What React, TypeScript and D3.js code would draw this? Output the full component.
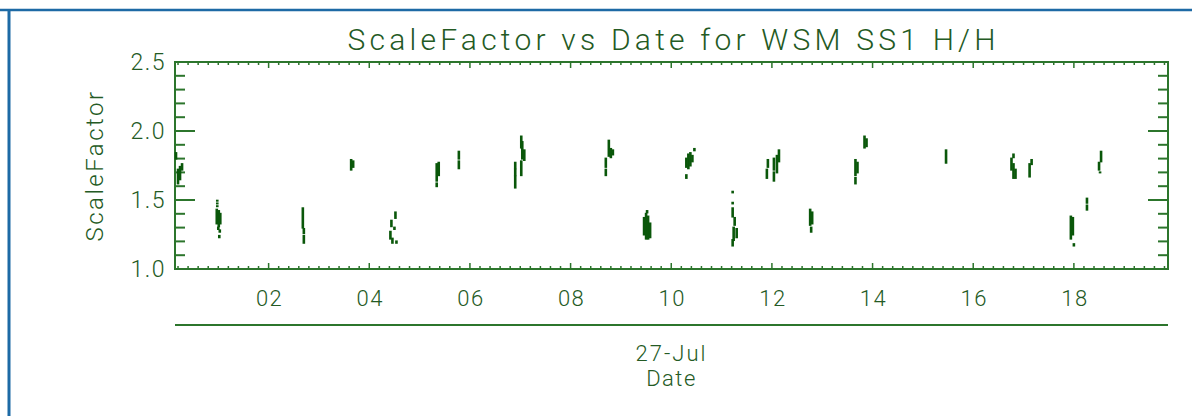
import React, { useEffect, useRef } from 'react';
import * as d3 from 'd3';

const title = 'ScaleFactor vs Date for WSM SS1 H/H';
const yTitle = 'ScaleFactor';
const dayLabel = '27-Jul';
const xTitle = 'Date';

const hourTicks = [2, 4, 6, 8, 10, 12, 14, 16, 18];
const hourLabels = ['02', '04', '06', '08', '10', '12', '14', '16', '18'];
const yTicks = [1.0, 1.5, 2.0, 2.5];
const yLabels = ['1.0', '1.5', '2.0', '2.5'];

// [hour of day, low ScaleFactor, high ScaleFactor] - short runs of samples
const samples: [number, number, number][] = [
  [0.16, 1.8, 1.84], [0.2, 1.62, 1.72], [0.24, 1.65, 1.74], [0.28, 1.72, 1.76],
  [0.98, 1.495, 1.495], [0.98, 1.475, 1.475], [0.98, 1.455, 1.455],
  [0.97, 1.33, 1.43], [1.01, 1.31, 1.42], [1.04, 1.33, 1.4],
  [1.0, 1.29, 1.3], [1.03, 1.27, 1.28], [1.02, 1.23, 1.24],
  [2.68, 1.3, 1.44], [2.7, 1.26, 1.29], [2.7, 1.19, 1.24],
  [3.64, 1.72, 1.79], [3.68, 1.74, 1.78],
  [4.52, 1.37, 1.41], [4.44, 1.31, 1.35], [4.5, 1.29, 1.3],
  [4.42, 1.22, 1.27], [4.46, 1.19, 1.22], [4.54, 1.19, 1.2],
  [5.34, 1.64, 1.76], [5.38, 1.68, 1.77], [5.34, 1.6, 1.62],
  [5.78, 1.8, 1.85], [5.78, 1.73, 1.78],
  [6.9, 1.59, 1.67], [6.9, 1.68, 1.72], [6.9, 1.73, 1.77],
  [7.02, 1.68, 1.78], [7.04, 1.8, 1.92], [7.08, 1.79, 1.86], [7.02, 1.88, 1.96],
  [8.7, 1.68, 1.72], [8.7, 1.74, 1.8], [8.76, 1.82, 1.93], [8.8, 1.81, 1.87], [8.84, 1.83, 1.86],
  [9.46, 1.25, 1.37], [9.5, 1.22, 1.4], [9.54, 1.22, 1.38], [9.58, 1.23, 1.33], [9.52, 1.41, 1.42],
  [10.3, 1.74, 1.8], [10.34, 1.73, 1.83], [10.38, 1.75, 1.84], [10.42, 1.78, 1.82],
  [10.46, 1.86, 1.87], [10.3, 1.66, 1.68],
  [11.22, 1.555, 1.56], [11.22, 1.475, 1.48], [11.22, 1.38, 1.44], [11.26, 1.32, 1.37],
  [11.24, 1.21, 1.3], [11.3, 1.23, 1.29], [11.22, 1.17, 1.21],
  [11.9, 1.66, 1.72], [11.92, 1.74, 1.79], [12.04, 1.64, 1.7], [12.04, 1.72, 1.8],
  [12.1, 1.7, 1.82], [12.14, 1.78, 1.86],
  [12.76, 1.32, 1.43], [12.8, 1.33, 1.41], [12.78, 1.27, 1.3],
  [13.66, 1.62, 1.66], [13.66, 1.68, 1.79], [13.7, 1.7, 1.77], [13.84, 1.88, 1.96], [13.88, 1.89, 1.94],
  [15.46, 1.77, 1.86],
  [16.76, 1.72, 1.8], [16.8, 1.66, 1.76], [16.84, 1.66, 1.72], [16.8, 1.81, 1.83],
  [17.12, 1.67, 1.76], [17.16, 1.76, 1.79],
  [17.94, 1.22, 1.38], [17.98, 1.25, 1.37], [18.0, 1.17, 1.18],
  [18.26, 1.43, 1.46], [18.26, 1.48, 1.51],
  [18.54, 1.78, 1.85], [18.5, 1.72, 1.77], [18.52, 1.7, 1.7],
];

const App = () => {
  const ref = useRef<SVGSVGElement>(null);

  useEffect(() => {
    const width = 1192;
    const height = 416;
    const left = 175, right = 1168, top = 62, bottom = 269;
    const axisColor = '#2c752c';
    const dotColor = '#0a570a';
    const textColor = '#245a24';
    const font = "Roboto, 'DejaVu Sans', sans-serif";

    const svg = d3.select(ref.current);
    svg.selectAll('*').remove();

    const x = d3.scaleLinear().domain([0.14, 19.87]).range([left, right]);
    const y = d3.scaleLinear().domain([1.0, 2.5]).range([bottom, top]);

    svg.append('rect').attr('width', width).attr('height', height).attr('fill', '#fff');

    // blue page frame
    svg.append('line').attr('x1', 0).attr('x2', width).attr('y1', 10).attr('y2', 10)
      .attr('stroke', '#1d6aa5').attr('stroke-width', 2.5);
    svg.append('line').attr('x1', 9).attr('x2', 9).attr('y1', 10).attr('y2', height)
      .attr('stroke', '#1d6aa5').attr('stroke-width', 3);

    const label = (sel: any, size: number, spacing = 1.5) =>
      sel.style('font-family', font).style('font-weight', 300)
        .style('font-size', `${size}px`).style('letter-spacing', `${spacing}px`)
        .style('fill', textColor);

    // title
    label(svg.append('text')
      .attr('x', (left + right) / 2).attr('y', 50)
      .attr('text-anchor', 'middle')
      .attr('textLength', 648).attr('lengthAdjust', 'spacing'), 30, 0)
      .text(title);

    // plot box
    svg.append('rect')
      .attr('x', left).attr('y', top)
      .attr('width', right - left).attr('height', bottom - top)
      .attr('fill', 'none').attr('stroke', axisColor).attr('stroke-width', 2);

    // y ticks (both sides, inward)
    const yMinor = d3.range(1.1, 2.45, 0.1).filter((v) => Math.abs(v * 2 - Math.round(v * 2)) > 0.01);
    const g = svg.append('g').attr('stroke', axisColor).attr('stroke-width', 2);
    yTicks.forEach((v) => {
      g.append('line').attr('x1', left).attr('x2', left + 20).attr('y1', y(v)).attr('y2', y(v));
      g.append('line').attr('x1', right).attr('x2', right - 20).attr('y1', y(v)).attr('y2', y(v));
    });
    yMinor.forEach((v) => {
      g.append('line').attr('x1', left).attr('x2', left + 10).attr('y1', y(v)).attr('y2', y(v));
      g.append('line').attr('x1', right).attr('x2', right - 10).attr('y1', y(v)).attr('y2', y(v));
    });

    // x ticks (top and bottom, inward)
    const xMinor = d3.range(0.2, 19.85, 0.2).filter((h) => Math.abs(h / 2 - Math.round(h / 2)) > 0.01);
    const gx = svg.append('g').attr('stroke', axisColor).attr('stroke-width', 1.5);
    hourTicks.forEach((h) => {
      gx.append('line').attr('x1', x(h)).attr('x2', x(h)).attr('y1', bottom).attr('y2', bottom - 6);
      gx.append('line').attr('x1', x(h)).attr('x2', x(h)).attr('y1', top).attr('y2', top + 6);
    });
    xMinor.forEach((h) => {
      gx.append('line').attr('x1', x(h)).attr('x2', x(h)).attr('y1', bottom).attr('y2', bottom - 3);
      gx.append('line').attr('x1', x(h)).attr('x2', x(h)).attr('y1', top).attr('y2', top + 3);
    });

    // y labels
    label(svg.append('g').selectAll('text').data(yTicks).enter().append('text')
      .attr('x', 166).attr('y', (d: number) => y(d)).attr('dy', '0.36em')
      .attr('text-anchor', 'end'), 23)
      .text((d: number, i: number) => yLabels[i]);

    label(svg.append('text')
      .attr('transform', `translate(103,${(top + bottom) / 2}) rotate(-90)`)
      .attr('text-anchor', 'middle'), 24, 2.5)
      .text(yTitle);

    // hour labels and the date level of the axis
    label(svg.append('g').selectAll('text').data(hourTicks).enter().append('text')
      .attr('x', (d: number) => x(d) + 1).attr('y', 306)
      .attr('text-anchor', 'middle'), 22)
      .text((d: number, i: number) => hourLabels[i]);

    svg.append('line').attr('x1', left).attr('x2', right).attr('y1', 325).attr('y2', 325)
      .attr('stroke', axisColor).attr('stroke-width', 2);

    label(svg.append('text')
      .attr('x', (left + right) / 2).attr('y', 361)
      .attr('text-anchor', 'middle'), 22, 2)
      .text(dayLabel);
    label(svg.append('text')
      .attr('x', (left + right) / 2).attr('y', 386)
      .attr('text-anchor', 'middle'), 22)
      .text(xTitle);

    // samples
    svg.append('g').selectAll('rect').data(samples).enter().append('rect')
      .attr('x', (d) => x(d[0]) - 1.3)
      .attr('y', (d) => y(d[2]) - 1)
      .attr('width', 2.6)
      .attr('height', (d) => Math.max(2, y(d[1]) - y(d[2]) + 2))
      .attr('fill', dotColor);
  }, []);

  return (
    <svg ref={ref} width={1192} height={416}
      style={{ position: 'absolute', left: 0, top: 0, display: 'block' }} />
  );
};

export default App;
